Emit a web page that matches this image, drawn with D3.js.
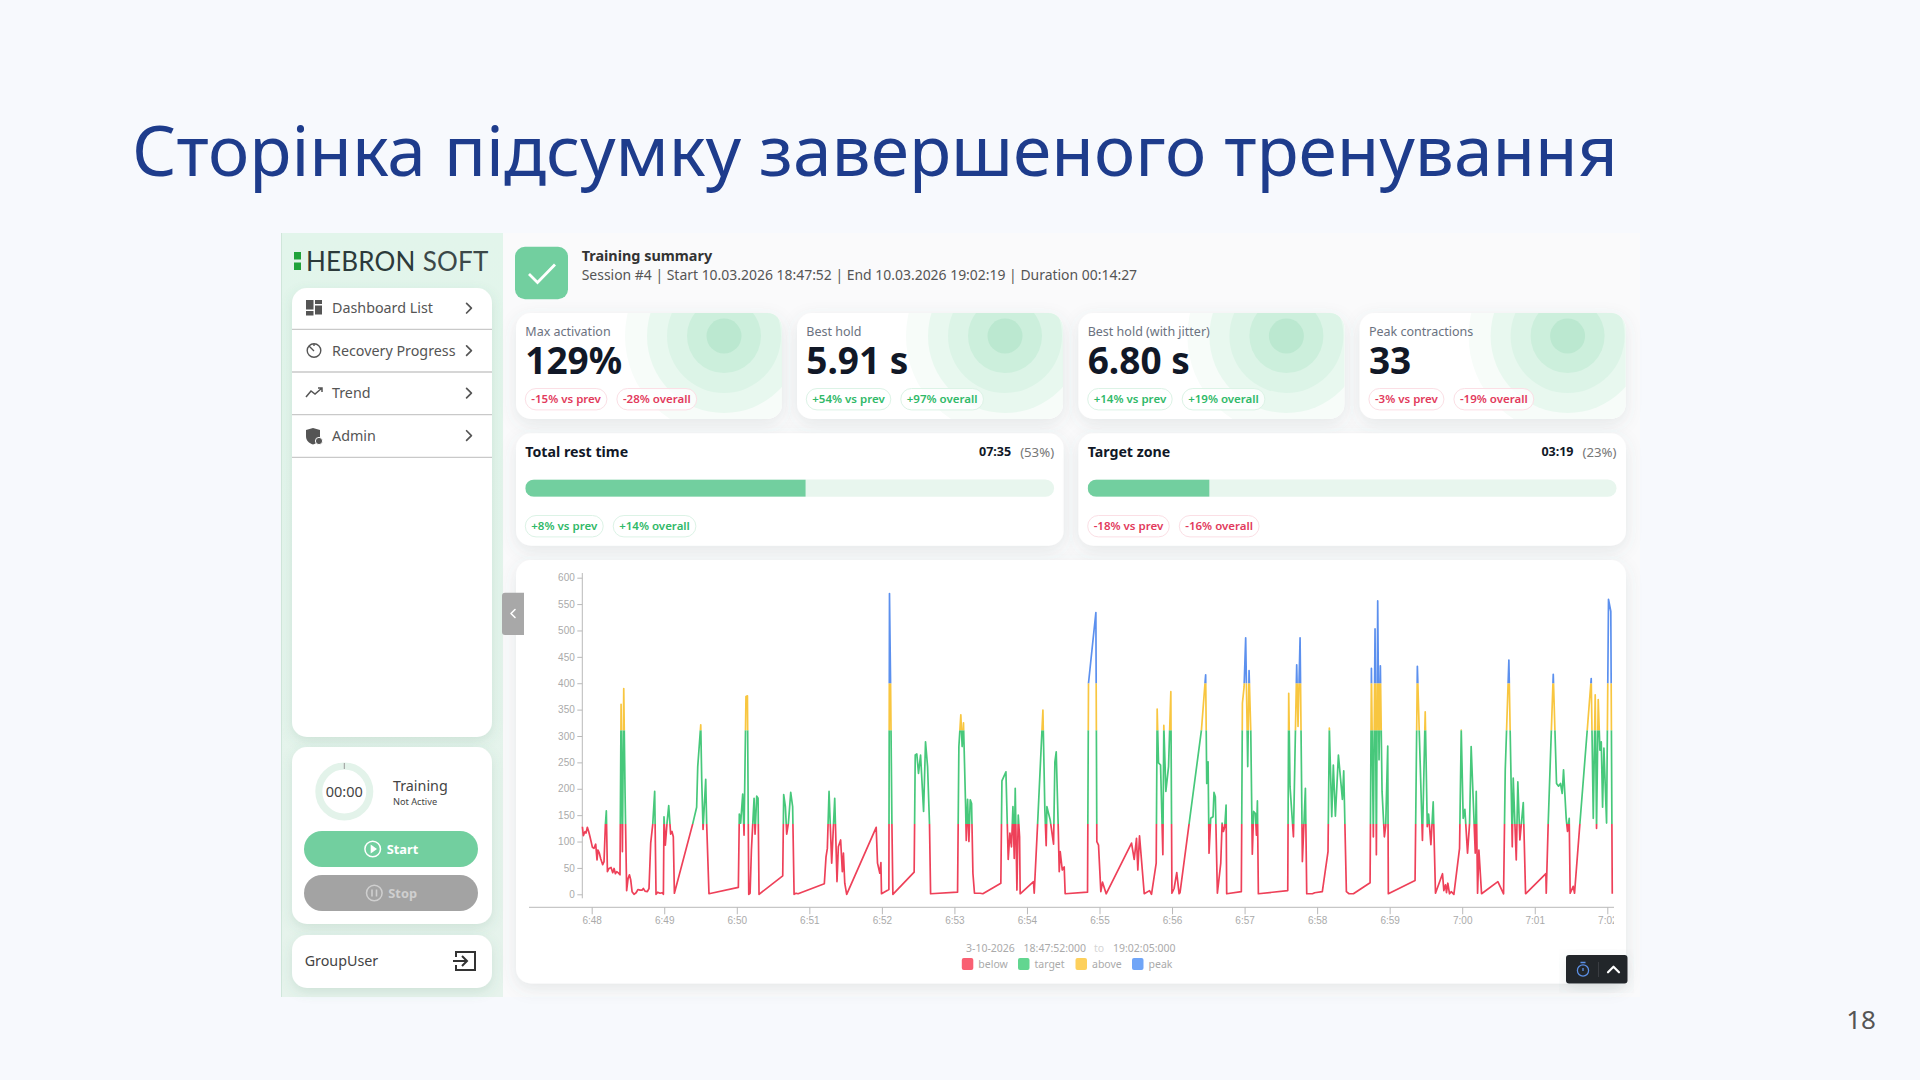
<!DOCTYPE html>
<html>
<head>
<meta charset="utf-8">
<script src="https://cdn.jsdelivr.net/npm/d3@7"></script>
<style>
  html, body { margin: 0; padding: 0; background: #f7f9fd; }
  svg { display: block; }
  text { font-family: "Noto Sans", sans-serif; }
</style>
</head>
<body>
<div id="slide"></div>
<script>
// Slide texts
const slideTitle = "Сторінка підсумку завершеного тренування";
const slideNumber = "18";
const summaryTitle = "Training summary";
const summaryLine = "Session #4 | Start 10.03.2026 18:47:52 | End 10.03.2026 19:02:19 | Duration 00:14:27";
const menuItems = ["Dashboard List", "Recovery Progress", "Trend", "Admin"];

// KPI cards
const kpiLabels = ["Max activation", "Best hold", "Best hold (with jitter)", "Peak contractions"];
const kpiValues = ["129%", "5.91 s", "6.80 s", "33"];
const kpiPrev = ["-15% vs prev", "+54% vs prev", "+14% vs prev", "-3% vs prev"];
const kpiOverall = ["-28% overall", "+97% overall", "+19% overall", "-19% overall"];

// Progress cards
const barLabels = ["Total rest time", "Target zone"];
const barTimes = ["07:35", "03:19"];
const barPercents = [53, 23];
const barPrev = ["+8% vs prev", "-18% vs prev"];
const barOverall = ["+14% overall", "-16% overall"];

// Chart: seconds after 6:48:00 and the signal value
const times = [
  -7.7, -6.9, -5.5, -4.7, -3.6, -2.5, -1.4, 0.6, 1.9, 3.3, 4.4, 5.2, 6.3, 7.4, 9.1, 10.2, 11.3, 12.1, 13.0, 14.3,
  16.0, 17.4, 18.5, 19.6, 20.7, 22.3, 23.4, 24.3, 25.4, 26.5, 27.6, 28.9, 30.1, 31.2, 32.3, 33.4, 35.0, 36.7, 38.3, 40.0,
  41.6, 42.7, 44.1, 46.0, 47.4, 48.8, 50.5, 52.1, 53.2, 54.6, 56.5, 58.2, 59.3, 59.8, 60.9, 62.3, 63.7, 65.3, 66.4, 67.5,
  68.4, 83.5, 86.8, 87.7, 90.2, 91.0, 92.1, 94.3, 95.1, 97.0, 121.3, 122.1, 123.2, 124.9, 126.0, 127.6, 128.8, 129.9, 131.0, 132.1,
  134.3, 135.1, 136.5, 137.6, 138.4, 158.0, 158.8, 160.2, 161.3, 162.7, 164.6, 166.2, 167.4, 169.0, 170.7, 192.4, 193.8, 194.9, 196.3, 198.5,
  201.0, 202.9, 204.0, 205.9, 207.3, 208.2, 209.3, 210.9, 235.3, 236.4, 238.3, 239.2, 239.7, 245.8, 246.3, 247.2, 248.3, 249.1, 266.7, 267.6,
  268.9, 270.3, 272.0, 274.5, 276.1, 277.8, 279.4, 280.3, 302.6, 303.7, 305.3, 306.4, 307.5, 309.2, 309.8, 310.9, 312.0, 313.1, 314.2, 315.3,
  316.6, 321.3, 323.5, 338.4, 339.3, 342.6, 344.5, 345.9, 347.2, 348.4, 349.5, 350.3, 351.7, 352.8, 353.9, 354.4, 365.4, 366.0, 368.8, 373.2,
  374.8, 375.9, 376.5, 379.2, 382.0, 383.1, 384.2, 385.8, 386.7, 387.5, 389.2, 390.8, 391.6, 410.1, 410.9, 417.0, 417.8, 419.2, 421.1, 422.5,
  425.5, 446.5, 448.7, 450.6, 451.7, 453.1, 457.0, 461.4, 463.0, 466.9, 467.7, 468.8, 470.5, 472.4, 473.2, 474.9, 477.1, 479.0, 479.9, 481.7,
  483.9, 485.8, 486.6, 504.3, 507.8, 508.7, 509.8, 510.6, 512.0, 513.9, 514.7, 515.8, 517.5, 520.3, 521.4, 522.5, 523.6, 524.7, 525.2, 537.3,
  538.2, 539.6, 540.9, 542.6, 543.7, 545.1, 546.4, 547.5, 548.9, 549.8, 550.6, 551.4, 575.7, 576.5, 577.6, 580.4, 583.1, 584.2, 585.9, 587.8,
  590.3, 591.4, 596.1, 598.0, 604.3, 609.0, 610.1, 612.1, 613.4, 615.1, 617.6, 620.9, 622.0, 624.2, 626.4, 630.0, 643.8, 644.9, 646.5, 647.9,
  649.0, 650.1, 651.2, 652.3, 653.7, 655.6, 656.7, 658.4, 658.9, 681.0, 682.9, 687.1, 689.4, 691.1, 692.2, 694.1, 696.0, 697.9, 703.7, 704.8,
  706.2, 707.0, 708.1, 709.5, 710.9, 713.1, 717.8, 719.2, 720.8, 722.2, 724.4, 726.1, 727.4, 730.8, 731.6, 732.7, 733.8, 736.0, 749.5, 754.2,
  755.6, 758.6, 761.4, 762.2, 764.7, 766.0, 767.7, 770.5, 772.4, 789.2, 789.5, 791.1, 795.3, 798.0, 799.7, 801.3, 802.7, 803.8, 806.0, 807.1,
  808.5, 809.3, 811.8, 812.9, 817.3, 823.4, 826.7, 828.4, 830.0, 831.1, 832.5, 833.9, 835.0, 836.1, 837.2, 839.4, 841.0, 842.9, 844.1
];
const values = [
  128, 111, 119, 116, 127, 119, 109, 89, 87, 95, 65, 84, 78, 68, 56, 62, 131, 158, 43, 49,
  51, 41, 49, 39, 43, 40, 37, 360, 81, 390, 191, 7, 30, 37, 27, 5, 0, 3, 9, 8,
  8, 11, 6, 5, 11, 97, 133, 195, 0, 4, 2, 3, 0, 147, 93, 135, 168, 114, 119, 109,
  2, 133, 165, 242, 321, 217, 123, 218, 133, 1, 13, 152, 135, 190, 112, 375, 376, 0, 2, 84,
  182, 114, 186, 182, 0, 35, 189, 166, 114, 135, 193, 166, 0, 2, 1, 20, 71, 87, 195, 59,
  182, 24, 90, 103, 43, 78, 21, 0, 127, 59, 40, 60, 1, 9, 570, 400, 135, 0, 42, 264,
  266, 229, 264, 157, 289, 242, 133, 1, 4, 280, 340, 280, 325, 172, 102, 180, 100, 179, 172, 40,
  2, 2, 1, 21, 215, 232, 66, 116, 90, 166, 68, 201, 8, 150, 109, 1, 24, 2, 133, 349,
  160, 92, 166, 141, 95, 251, 270, 133, 43, 81, 46, 52, 1, 4, 400, 534, 100, 93, 5, 23,
  1, 97, 66, 106, 46, 111, 1, 7, 0, 59, 351, 249, 245, 75, 320, 195, 242, 384, 2, 11,
  41, 1, 3, 311, 416, 210, 251, 78, 144, 147, 193, 185, 2, 59, 135, 119, 128, 169, 1, 5,
  362, 393, 486, 242, 424, 311, 76, 157, 153, 112, 177, 1, 7, 381, 204, 109, 435, 318, 486, 62,
  201, 1, 1, 3, 5, 81, 315, 147, 245, 148, 264, 180, 234, 5, 1, 1, 22, 428, 109, 503,
  75, 556, 255, 433, 195, 109, 129, 281, 1, 26, 432, 102, 346, 128, 152, 94, 175, 2, 39, 7,
  18, 3, 21, 1, 5, 0, 87, 311, 144, 161, 78, 135, 280, 78, 195, 2, 84, 1, 24, 1,
  236, 444, 90, 220, 65, 213, 103, 174, 1, 39, 2, 133, 417, 210, 205, 210, 191, 236, 144, 119,
  144, 2, 15, 2, 133, 311, 409, 144, 378, 125, 369, 273, 289, 165, 277, 135, 559, 536, 1
];
const yTicks = [0, 50, 100, 150, 200, 250, 300, 350, 400, 450, 500, 550, 600];
const xTickSeconds = [0, 60, 120, 180, 240, 300, 360, 420, 480, 540, 600, 660, 720, 780, 840];
const xLabels = ["6:48", "6:49", "6:50", "6:51", "6:52", "6:53", "6:54", "6:55", "6:56", "6:57", "6:58", "6:59", "7:00", "7:01", "7:02"];

// Zones of the signal
const zoneNames = ["below", "target", "above", "peak"];
const zoneLimits = [0, 133, 311, 400, 600];
const zoneColors = ["#ee4159", "#47c87b", "#f8c640", "#5c90ee"];
const zoneLegendColors = ["#f95f72", "#62d690", "#fdd05c", "#70a5f7"];

// Colors
const accent = "#72cf9f";
const accentLight = "#e8f6ee";
const red = "#e23a5c";
const green = "#30b968";
const ringColors = ["#f7fcf9", "#e8f8ef", "#dcf4e7", "#ccefdc", "#bbe8d0"];
const ringRadius = [99, 77, 57, 37, 17.5];

const width = 1920;
const height = 1080;

const svg = d3.select("#slide").append("svg")
    .attr("width", width)
    .attr("height", height);

const defs = svg.append("defs");

// soft shadows under the cards
function addShadow(id, dy, blur, color, opacity) {
    const f = defs.append("filter").attr("id", id)
        .attr("x", "-10%").attr("y", "-20%").attr("width", "120%").attr("height", "150%");
    f.append("feDropShadow")
        .attr("dx", 0).attr("dy", dy).attr("stdDeviation", blur)
        .attr("flood-color", color).attr("flood-opacity", opacity);
}
addShadow("cardShadow", 5, 8, "#5a6a70", 0.13);
addShadow("menuShadow", 4, 6, "#4f8a6c", 0.16);

function card(parent, x, y, w, h, r, shadow) {
    return parent.append("rect")
        .attr("x", x).attr("y", y)
        .attr("width", w).attr("height", h)
        .attr("rx", r)
        .attr("fill", "#fff")
        .attr("filter", shadow ? "url(#" + shadow + ")" : null);
}

function label(parent, x, y, str, size, color, weight, anchor) {
    return parent.append("text")
        .attr("x", x).attr("y", y - 1)
        .attr("dominant-baseline", "central")
        .attr("text-anchor", anchor || "start")
        .attr("font-size", size)
        .attr("font-weight", weight || 400)
        .attr("fill", color)
        .text(str);
}

// two pills side by side, width follows the text
function chips(parent, x, y, texts) {
    let left = x;
    texts.forEach(function (str) {
        const color = str[0] === "-" ? red : green;
        const t = label(parent, left + 6, y + 10.7, str, 11.5, color, 600);
        const w = t.node().getComputedTextLength() + 12;
        parent.insert("rect", "text")
            .attr("x", left).attr("y", y)
            .attr("width", w).attr("height", 21.4)
            .attr("rx", 10.7)
            .attr("fill", "#fff")
            .attr("fill-opacity", 0.75)
            .attr("stroke", color === red ? "#fbdfe5" : "#dcf3e6");
        left += w + 10;
    });
}

function chevron(parent, x, y, size, dir, color, sw) {
    const d = dir === "right" ? [[-size / 2, -size], [size / 2, 0], [-size / 2, size]]
        : dir === "left" ? [[size / 2, -size], [-size / 2, 0], [size / 2, size]]
        : [[-size, size / 2], [0, -size / 2], [size, size / 2]];
    parent.append("path")
        .attr("d", d3.line().x(p => x + p[0]).y(p => y + p[1])(d))
        .attr("fill", "none").attr("stroke", color).attr("stroke-width", sw)
        .attr("stroke-linecap", "round").attr("stroke-linejoin", "round");
}

/* Title and page number */
label(svg, 132, 150, slideTitle, 69.4, "#1e3c8c");
label(svg, 1861, 1020, slideNumber, 26, "#555", 400, "middle");

/* Main panel behind the cards */
svg.append("rect").attr("x", 503).attr("y", 233).attr("width", 1137).attr("height", 764).attr("fill", "#fafafb");

/* Sidebar */
const side = svg.append("g");
const sideGrad = defs.append("linearGradient").attr("id", "sideGrad").attr("x1", 0).attr("x2", 0).attr("y1", 0).attr("y2", 1);
sideGrad.append("stop").attr("offset", 0).attr("stop-color", "#e2f5eb");
sideGrad.append("stop").attr("offset", 1).attr("stop-color", "#e6f3ec");
side.append("rect").attr("x", 281).attr("y", 233).attr("width", 222).attr("height", 764).attr("fill", "url(#sideGrad)");
side.append("line").attr("x1", 281.5).attr("x2", 281.5).attr("y1", 233).attr("y2", 997).attr("stroke", "#cfe6da");

// logo
side.append("rect").attr("x", 294).attr("y", 252).attr("width", 7).attr("height", 7.5).attr("fill", "#1fa33a");
side.append("rect").attr("x", 294).attr("y", 262.5).attr("width", 7).attr("height", 7.5).attr("fill", "#1fa33a");
const logo = label(side, 306, 261.5, "HEBRON", 26, "#2c3a3a", 400).style("font-family", "Lato");
logo.append("tspan").attr("font-weight", 400).attr("dx", 7).attr("fill", "#3c4848").text("SOFT");
logo.attr("letter-spacing", 0.2);

// menu
card(side, 292, 288, 200, 449, 15, "menuShadow");
const menuSep = [329.3, 372, 414.7, 457.3];
menuItems.forEach(function (item, i) {
    const cy = 308.7 + i * 42.45;
    label(side, 332, cy, item, 14.3, "#555");
    chevron(side, 469, cy - 0.5, 4.8, "right", "#555", 1.7);
    side.append("line").attr("x1", 292).attr("x2", 492)
        .attr("y1", menuSep[i]).attr("y2", menuSep[i])
        .attr("stroke", "#c9c9c9").attr("stroke-width", 1.3);
});
// menu icons
const iconColor = "#555";
[[306, 300, 7.5, 9.5], [315, 300, 7, 4], [315, 305.5, 7, 9], [306, 311, 7.5, 4.5]].forEach(function (r) {
    side.append("rect").attr("x", r[0]).attr("y", r[1]).attr("width", r[2]).attr("height", r[3]).attr("fill", iconColor);
});
side.append("circle").attr("cx", 314).attr("cy", 350.5).attr("r", 6.8).attr("fill", "none").attr("stroke", iconColor).attr("stroke-width", 1.4);
side.append("path").attr("d", "M314 351 L309 346 M314 344 V346").attr("stroke", iconColor).attr("stroke-width", 1.4);
side.append("path").attr("d", "M306 397 L311 391 L315 394 L322 388 M318 388 H322 V392")
    .attr("fill", "none").attr("stroke", iconColor).attr("stroke-width", 1.5);
side.append("path").attr("d", "M306 430 L313 428 L320 430 V436 C320 441 317 443 313 444.5 C309 443 306 441 306 436 Z").attr("fill", iconColor);
side.append("circle").attr("cx", 319).attr("cy", 441).attr("r", 3.6).attr("fill", iconColor).attr("stroke", "#fff");

// training box
card(side, 292, 747, 200, 177, 15, "menuShadow");
side.append("circle").attr("cx", 344.3).attr("cy", 791.5).attr("r", 25.5)
    .attr("fill", "none").attr("stroke", "#e3f3ea").attr("stroke-width", 7);
side.append("line").attr("x1", 344.3).attr("x2", 344.3).attr("y1", 763).attr("y2", 769).attr("stroke", "#999");
label(side, 344.3, 792, "00:00", 14.5, "#444", 400, "middle");
label(side, 393, 786.5, "Training", 14.3, "#444");
label(side, 393, 802, "Not Active", 9.2, "#444");

function button(y, text, fill, color, iconX, textX) {
    side.append("rect").attr("x", 304).attr("y", y).attr("width", 174).attr("height", 36).attr("rx", 18).attr("fill", fill);
    side.append("circle").attr("cx", iconX).attr("cy", y + 18).attr("r", 7.8)
        .attr("fill", "none").attr("stroke", color).attr("stroke-width", 1.5);
    label(side, textX, y + 18.5, text, 12.8, color, 700);
}
button(831, "Start", accent, "#fff", 372.7, 386.7);
side.append("path").attr("d", "M370.7 844.5 L377 849 L370.7 853.5 Z").attr("fill", "#fff");
button(875, "Stop", "#a3a3a3", "#cfcfcf", 374.3, 388.3);
side.append("path").attr("d", "M372 889.5 V896.5 M376.5 889.5 V896.5").attr("stroke", "#cfcfcf").attr("stroke-width", 1.6);

// user box
card(side, 292, 935, 200, 53, 15, "menuShadow");
label(side, 304.7, 961.7, "GroupUser", 14.3, "#444");
side.append("path")
    .attr("d", "M456 957 V952 H475 V970 H456 V965 M453 961 H467 M462 956 L467 961 L462 966")
    .attr("fill", "none").attr("stroke", "#333").attr("stroke-width", 2);

/* Summary header */
svg.append("rect").attr("x", 515).attr("y", 246.7).attr("width", 53).attr("height", 52.6).attr("rx", 10).attr("fill", accent);
svg.append("path").attr("d", "M529 274 L537.5 282.5 L555 264.5").attr("fill", "none").attr("stroke", "#fff").attr("stroke-width", 2.8);
label(svg, 581.7, 256.5, summaryTitle, 14.4, "#333", 700);
label(svg, 581.7, 275.8, summaryLine, 13.95, "#555");

/* KPI cards */
const kpiX = [516, 797, 1078.4, 1359.6];
const kpiW = 266;
kpiLabels.forEach(function (name, i) {
    const g = svg.append("g");
    const x0 = kpiX[i];
    card(g, x0, 313, kpiW, 106, 15, "cardShadow");
    defs.append("clipPath").attr("id", "kpiClip" + i).append("rect")
        .attr("x", x0).attr("y", 313).attr("width", kpiW).attr("height", 106).attr("rx", 15);
    g.append("g").attr("clip-path", "url(#kpiClip" + i + ")")
        .selectAll("circle").data(ringRadius).enter().append("circle")
        .attr("cx", x0 + 208).attr("cy", 336)
        .attr("r", d => d)
        .attr("fill", (d, j) => ringColors[j]);
    label(g, x0 + 9.3, 332, name, 12.5, "#6b7280");
    label(g, x0 + 9.3, 360, kpiValues[i], 37, "#111827", 700);
    chips(g, x0 + 9.3, 388.5, [kpiPrev[i], kpiOverall[i]]);
});

/* Progress cards */
const barX = [516, 1078.4];
const barW = 547.6;
barLabels.forEach(function (name, i) {
    const g = svg.append("g");
    const x0 = barX[i];
    card(g, x0, 433.3, barW, 112.4, 15, "cardShadow");
    label(g, x0 + 9.3, 452.8, name, 14.2, "#111827", 700);
    const right = x0 + barW - 9.5;
    const pct = label(g, right, 452.8, "(" + barPercents[i] + "%)", 13.2, "#777", 400, "end");
    label(g, right - pct.node().getComputedTextLength() - 9, 452.8, barTimes[i], 12.5, "#111827", 700, "end");
    // progress scale for this card
    const bar = d3.scaleLinear().domain([0, 100]).range([x0 + 9.3, right]);
    defs.append("clipPath").attr("id", "barClip" + i).append("rect")
        .attr("x", bar(0)).attr("y", 479.5).attr("width", bar(100) - bar(0)).attr("height", 17.3).attr("rx", 8.6);
    g.append("rect").attr("x", bar(0)).attr("y", 479.5).attr("width", bar(100) - bar(0)).attr("height", 17.3)
        .attr("rx", 8.6).attr("fill", accentLight);
    g.append("rect").attr("x", bar(0)).attr("y", 479.5).attr("width", bar(barPercents[i]) - bar(0)).attr("height", 17.3)
        .attr("fill", accent).attr("clip-path", "url(#barClip" + i + ")");
    chips(g, x0 + 9.3, 515.5, [barPrev[i], barOverall[i]]);
});

/* Chart card */
card(svg, 516, 560, 1110, 423.5, 15, "cardShadow");

const x = d3.scaleLinear().domain([0, 840]).range([591.7, 1607.3]);
const y = d3.scaleLinear().domain([0, 600]).range([894.3, 577.7]);

const axisColor = "#b9b9b9";
const yAxis = svg.append("g").attr("transform", "translate(582.3,0)")
    .call(d3.axisLeft(y).tickValues(yTicks).tickSize(5).tickPadding(2.5).tickSizeOuter(0));
yAxis.select(".domain").remove();
yAxis.selectAll("line").attr("stroke", axisColor);
yAxis.selectAll("text").attr("fill", "#aaa").style("font-family", "Liberation Sans").attr("font-size", 10);
svg.append("line").attr("x1", 582.3).attr("x2", 582.3)
    .attr("y1", y(600) - 4.7).attr("y2", y(0) + 4)
    .attr("stroke", axisColor).attr("stroke-width", 1);

defs.append("clipPath").attr("id", "xAxisClip").append("rect")
    .attr("x", 520).attr("y", 900).attr("width", 1094).attr("height", 40);
const xAxis = svg.append("g").attr("clip-path", "url(#xAxisClip)").append("g")
    .attr("transform", "translate(0,907.3)")
    .call(d3.axisBottom(x).tickValues(xTickSeconds).tickFormat((d, i) => xLabels[i]).tickSize(7).tickPadding(3));
xAxis.select(".domain").remove();
xAxis.selectAll("line").attr("stroke", axisColor);
xAxis.selectAll("text").attr("fill", "#aaa").style("font-family", "Liberation Sans").attr("font-size", 10);
svg.append("line").attr("x1", 529).attr("x2", 1614).attr("y1", 907.3).attr("y2", 907.3)
    .attr("stroke", axisColor).attr("stroke-width", 1);

// One line, drawn once per zone and clipped to that zone's band
const linePath = d3.line()
    .x(function (d) { return x(d); })
    .y(function (d, i) { return y(values[i]); });

zoneNames.forEach(function (name, i) {
    defs.append("clipPath").attr("id", "zone-" + name).append("rect")
        .attr("x", 570).attr("width", 1060)
        .attr("y", y(zoneLimits[i + 1]))
        .attr("height", (i === 0 ? y(zoneLimits[i]) + 3 : y(zoneLimits[i])) - y(zoneLimits[i + 1]));
    svg.append("path")
        .attr("d", linePath(times))
        .attr("clip-path", "url(#zone-" + name + ")")
        .attr("fill", "none")
        .attr("stroke", zoneColors[i])
        .attr("stroke-width", 1.7)
        .attr("stroke-linejoin", "round");
});

// range line and legend under the chart
const legendText = "#aaa";
label(svg, 966, 949.3, "3-10-2026", 10.5, legendText);
label(svg, 1023.6, 949.3, "18:47:52:000", 10.5, legendText);
label(svg, 1094, 949.3, "to", 10.5, "#d5d5d5");
label(svg, 1113, 949.3, "19:02:05:000", 10.5, legendText);

const legendX = [961.8, 1018, 1075.5, 1132];
zoneNames.forEach(function (name, i) {
    svg.append("rect").attr("x", legendX[i]).attr("y", 958).attr("width", 11.5).attr("height", 12)
        .attr("rx", 2).attr("fill", zoneLegendColors[i]);
    label(svg, legendX[i] + 16.5, 965.3, name, 10.5, legendText);
});

/* Collapse tab */
svg.append("path").attr("d", "M524 592.7 H505 Q502 592.7 502 595.7 V632 Q502 635 505 635 H524 Z").attr("fill", "#a8a8a8");
chevron(svg, 513, 613.5, 4, "left", "#fff", 1.6);

/* Dark widget, bottom right */
svg.append("rect").attr("x", 1566).attr("y", 955).attr("width", 61.5).attr("height", 28.5).attr("rx", 3)
    .attr("fill", "#24272c").attr("filter", "url(#cardShadow)");
svg.append("circle").attr("cx", 1583).attr("cy", 970.5).attr("r", 5.6)
    .attr("fill", "none").attr("stroke", "#5c90e6").attr("stroke-width", 1.3);
svg.append("path").attr("d", "M1580.5 962.5 H1585.5 M1583 968 V971").attr("stroke", "#5c90e6").attr("stroke-width", 1.3);
svg.append("line").attr("x1", 1598.5).attr("x2", 1598.5).attr("y1", 962).attr("y2", 977).attr("stroke", "#3a3d42");
chevron(svg, 1613.5, 969.5, 5.5, "up", "#fff", 2.2);
</script>
</body>
</html>
